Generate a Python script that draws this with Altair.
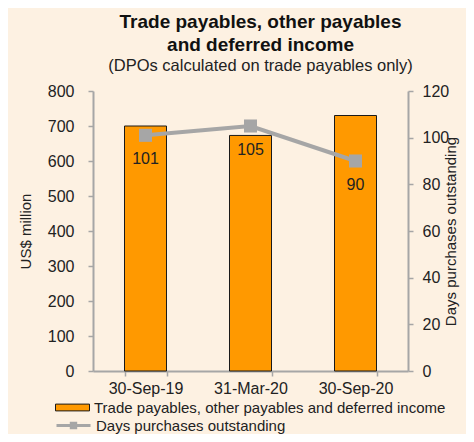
import altair as alt
import pandas as pd

dates = ["30-Sep-19", "31-Mar-20", "30-Sep-20"]
payables = [700, 673, 730]
dpo = [101, 105, 90]
bar_name = "Trade payables, other payables and deferred income"
line_name = "Days purchases outstanding"

df = pd.DataFrame({"date": dates, "payables": payables, "dpo": dpo,
                   "bar_series": [bar_name] * 3, "line_series": [line_name] * 3})

FONT = "Liberation Sans"
GRAY = "#A6A6A6"
TXT = "#222222"

x = alt.X("date:N", sort=dates, title=None,
          scale=alt.Scale(paddingInner=0.6, paddingOuter=0.3),
          axis=alt.Axis(labelAngle=0, tickBand="extent", labelPadding=4))

bars = alt.Chart(df).mark_bar(stroke="#1a1a1a", strokeWidth=1).encode(
    x=x,
    y=alt.Y("payables:Q", title="US$ million",
            scale=alt.Scale(domain=[0, 800]),
            axis=alt.Axis(values=list(range(0, 801, 100)), orient="left",
                          labelPadding=14, titlePadding=14)),
    fill=alt.Fill("bar_series:N",
                  scale=alt.Scale(domain=[bar_name], range=["#FF9900"]),
                  legend=alt.Legend(title=None, orient="none", legendX=-38, legendY=299,
                                    symbolType="M-1,-0.2H1V0.2H-1Z", symbolSize=1156,
                                    symbolStrokeColor="#1a1a1a", symbolStrokeWidth=1,
                                    labelOffset=4, labelFontSize=15, labelColor=TXT,
                                    labelFont=FONT, padding=0, labelLimit=500)),
)

y2 = alt.Y("dpo:Q", title="Days purchases outstanding",
           scale=alt.Scale(domain=[0, 120]),
           axis=alt.Axis(values=list(range(0, 121, 20)), orient="right",
                         labelPadding=9, titlePadding=10, titleAngle=270))

line = alt.Chart(df).mark_line(strokeWidth=4).encode(
    x=x, y=y2,
    stroke=alt.Stroke("line_series:N",
                      scale=alt.Scale(domain=[line_name], range=[GRAY]),
                      legend=alt.Legend(title=None, orient="none", legendX=-38, legendY=316,
                                        symbolType="M-1,0H1M-0.13,-0.13H0.13V0.13H-0.13Z",
                                        symbolSize=1156, symbolStrokeWidth=3,
                                        symbolFillColor=GRAY,
                                        labelOffset=4, labelFontSize=15, labelColor=TXT,
                                        labelFont=FONT, padding=0, labelLimit=500)),
)

pts = alt.Chart(df).mark_square(size=170, color=GRAY, opacity=1).encode(x=x, y=y2)

labels = alt.Chart(df).mark_text(dy=24, fontSize=16, color=TXT, font=FONT,
                                  baseline="middle").encode(
    x=x, y=y2, text=alt.Text("dpo:Q"))

right = alt.layer(line, pts, labels)

chart = alt.layer(bars, right).resolve_scale(y="independent").properties(
    width=315, height=280,
    padding={"left": 85, "top": 83, "right": 58, "bottom": 63},
    autosize=alt.AutoSizeParams(type="none"),
    background="#FDF1E2",
    title=alt.TitleParams(
        text=["Trade payables, other payables", "and deferred income"],
        subtitle="(DPOs calculated on trade payables only)",
        fontSize=19, fontWeight="bold", font=FONT, color="#111111",
        lineHeight=23, subtitleFontSize=16.5, subtitleFont=FONT,
        subtitleColor=TXT, subtitlePadding=3, anchor="middle", frame="group",
        dx=10, offset=9),
).configure_view(stroke=None).configure_axis(
    grid=False, domainColor=GRAY, domainWidth=2, tickColor=GRAY, tickWidth=1.5,
    tickSize=5, labelFont=FONT, labelFontSize=16, labelColor=TXT,
    titleFont=FONT, titleFontSize=15, titleFontWeight="normal", titleColor=TXT,
)

chart.save("out.html", embed_options={"renderer": "svg", "actions": False})
